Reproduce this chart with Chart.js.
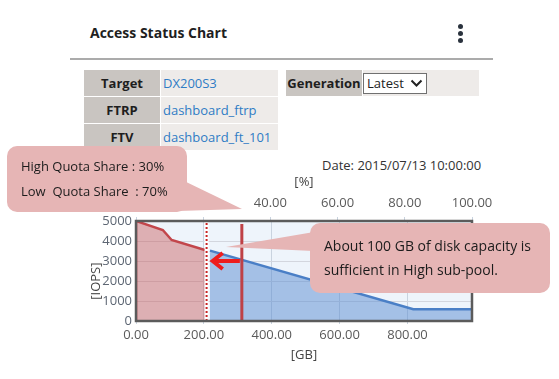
<!DOCTYPE html>
<html>
<head>
<meta charset="utf-8">
<title>Access Status Chart</title>
<script src="https://cdn.jsdelivr.net/npm/chart.js@4.4.1/dist/chart.umd.min.js"></script>
<style>
  body { margin: 0; width: 559px; height: 379px; position: relative; overflow: hidden; background: #fff; font-family: 'Open Sans', sans-serif; }
  #heading { position: absolute; left: 90px; top: 24px; font-size: 14px; line-height: 18px; font-weight: bold; color: #1f1f1f; }
  .dot { position: absolute; left: 458px; width: 5px; height: 5px; border-radius: 50%; background: #2a323d; }
  #rule { position: absolute; left: 70px; top: 58px; width: 423px; border-top: 2px solid #ababab; }
  table { position: absolute; top: 69px; border-collapse: separate; border-spacing: 1px; font-size: 13px; }
  th, td { height: 26px; padding: 0; }
  th { background: #c9c5c1; color: #1e1e1e; font-weight: bold; text-align: center; width: 76px; }
  td { background: #eeebe9; color: #2f7cc5; padding-left: 2px; }
  #info { left: 83px; }
  #info td { width: 115px; }
  #gen { left: 285px; }
  #gen td { width: 116px; padding-left: 0; }
  .sel { width: 59px; height: 19px; border: 1px solid #707070; background: #fff; color: #222; font-size: 13px; line-height: 19px; padding-left: 3px; position: relative; }
  .sel svg { position: absolute; right: 3px; top: 5px; }
  #date { position: absolute; left: 322px; top: 156px; font-size: 13px; color: #333; }
  canvas { position: absolute; left: 0; top: 0; z-index: 2; }
</style>
</head>
<body>
<div id="heading">Access Status Chart</div>
<div class="dot" style="top:24px"></div>
<div class="dot" style="top:31px"></div>
<div class="dot" style="top:38px"></div>
<div id="rule"></div>

<table id="info">
  <tr><th>Target</th><td>DX200S3</td></tr>
  <tr><th>FTRP</th><td>dashboard_ftrp</td></tr>
  <tr><th>FTV</th><td>dashboard_ft_101</td></tr>
</table>
<table id="gen">
  <tr><th>Generation</th><td><div class="sel">Latest<svg width="13" height="9" viewBox="0 0 13 9"><path d="M1.5 1.5 L6.5 6.5 L11.5 1.5" fill="none" stroke="#222" stroke-width="2"/></svg></div></td></tr>
</table>

<div id="date">Date: 2015/07/13 10:00:00</div>

<canvas id="myChart" width="559" height="379"></canvas>

<script>
'use strict';

// chart values
let highGB = [0, 0, 79, 105, 203];          // High sub-pool capacity [GB]
let highIOPS = [0, 5000, 4550, 4050, 3550];
let lowGB = [218, 817, 990];                // Low sub-pool capacity [GB]
let lowIOPS = [3520, 590, 590];

let borderGB = 208;        // dotted boundary between High and Low
let quotaPercent = 31.5;   // solid quota line on the [%] axis
let quotaTop = 4850;

let arrowFrom = 306;       // arrow from quota line back to boundary
let arrowTo = 223;
let arrowIOPS = 3000;

// axes and tick labels
let gbMax = 990;
let gbTicks = [0, 200, 400, 600, 800];
let percentMax = 100;
let percentTicks = [0, 20, 40, 60, 80, 100];
let iopsMax = 5000;
let iopsTicks = [0, 1000, 2000, 3000, 4000, 5000];

// callout texts
let quotaNote = ['High Quota Share : 30%', 'Low  Quota Share  : 70%'];
let capacityNote = ['About 100 GB of disk capacity is', 'sufficient in High sub-pool.'];

function toPoints(xs, ys) {
  let pts = [];
  for (let i = 0; i < xs.length; i++) {
    pts.push({ x: xs[i], y: ys[i] });
  }
  return pts;
}

function fixedTicks(values) {
  return function (scale) {
    scale.ticks = values.map(v => ({ value: v }));
  };
}

Chart.defaults.font.family = "'Open Sans', sans-serif";
Chart.defaults.font.size = 13;
Chart.defaults.color = '#5a5a5a';

// light plot background
let plotBackground = {
  id: 'plotBackground',
  beforeDraw(chart) {
    let a = chart.chartArea;
    let ctx = chart.ctx;
    ctx.save();
    ctx.fillStyle = '#eef4fb';
    ctx.fillRect(a.left, a.top, a.width, a.height);
    ctx.restore();
  }
};

// dark frame and red arrow
let frameAndArrow = {
  id: 'frameAndArrow',
  afterDatasetsDraw(chart) {
    let a = chart.chartArea;
    let ctx = chart.ctx;
    ctx.save();
    ctx.strokeStyle = '#5b5b5b';
    ctx.lineWidth = 2.5;
    ctx.strokeRect(a.left, a.top, a.width, a.height);

    let x0 = chart.scales.x.getPixelForValue(arrowFrom);
    let x1 = chart.scales.x.getPixelForValue(arrowTo);
    let yy = chart.scales.y.getPixelForValue(arrowIOPS);
    ctx.strokeStyle = '#ee1d1d';
    ctx.lineWidth = 4;
    ctx.lineJoin = 'miter';
    ctx.beginPath();
    ctx.moveTo(x0, yy);
    ctx.lineTo(x1 + 2, yy);
    ctx.stroke();
    ctx.beginPath();
    ctx.moveTo(x1 + 11, yy - 8);
    ctx.lineTo(x1 + 1, yy);
    ctx.lineTo(x1 + 11, yy + 8);
    ctx.stroke();
    ctx.restore();
  }
};

function callout(ctx, box, tail, lines, textX, lineY, size) {
  ctx.save();
  ctx.fillStyle = '#e6b5b5';
  ctx.beginPath();
  ctx.roundRect(box[0], box[1], box[2], box[3], 10);
  ctx.fill();
  ctx.beginPath();
  ctx.moveTo(tail[0], tail[1]);
  ctx.lineTo(tail[2], tail[3]);
  ctx.lineTo(tail[4], tail[5]);
  ctx.closePath();
  ctx.fill();
  ctx.fillStyle = '#1c1c1c';
  ctx.font = size + "px 'Open Sans', sans-serif";
  ctx.textBaseline = 'middle';
  for (let i = 0; i < lines.length; i++) {
    ctx.fillText(lines[i], textX, lineY[i]);
  }
  ctx.restore();
}

let callouts = {
  id: 'callouts',
  afterDraw(chart) {
    let ctx = chart.ctx;
    callout(ctx, [7, 146, 180, 66], [178, 178, 242, 209, 178, 211], quotaNote, 21, [167, 192], 13);
    callout(ctx, [310, 223, 240, 70], [314, 232, 226, 247, 314, 251], capacityNote, 324, [247, 271], 14);
  }
};

let ctx = document.getElementById('myChart').getContext('2d');

new Chart(ctx, { //eslint-disable-line
  type: 'line',
  data: {
    datasets: [
      {
        label: 'boundary',
        data: toPoints([borderGB, borderGB], [0, iopsMax]),
        borderColor: '#c82424',
        borderWidth: 2,
        borderDash: [2, 2],
        pointRadius: 0,
        fill: false
      },
      {
        label: 'gap',
        data: toPoints([borderGB, borderGB], [0, iopsMax]),
        borderColor: '#ffffff',
        borderWidth: 4,
        pointRadius: 0,
        fill: false
      },
      {
        label: 'quota',
        xAxisID: 'x2',
        data: toPoints([quotaPercent, quotaPercent], [0, quotaTop]),
        borderColor: '#bf4146',
        borderWidth: 3,
        pointRadius: 0,
        fill: false
      },
      {
        label: 'High',
        data: toPoints(highGB, highIOPS),
        borderColor: '#c2464b',
        backgroundColor: 'rgba(200, 90, 90, 0.45)',
        borderWidth: 2.5,
        pointRadius: 0,
        fill: 'origin'
      },
      {
        label: 'Low',
        data: toPoints(lowGB, lowIOPS),
        borderColor: '#4a7fc6',
        backgroundColor: 'rgba(90, 140, 210, 0.5)',
        borderWidth: 2.5,
        pointRadius: 0,
        fill: 'origin'
      }
    ]
  },
  options: {
    responsive: false,
    animation: false,
    events: [],
    layout: { padding: { left: 80, top: 170, right: 87, bottom: 0 } },
    plugins: {
      legend: { display: false },
      tooltip: { enabled: false }
    },
    scales: {
      x: {
        type: 'linear',
        position: 'bottom',
        min: 0,
        max: gbMax,
        afterBuildTicks: fixedTicks(gbTicks),
        afterFit(scale) { scale.height = 58; },
        ticks: { autoSkip: false, maxRotation: 0, padding: 3, callback: v => v.toFixed(2) },
        grid: { color: '#c9d3df', tickLength: 3 },
        border: { display: false },
        title: { display: true, text: '[GB]', color: '#444', padding: { top: 0, bottom: 16 } }
      },
      x2: {
        type: 'linear',
        position: 'top',
        min: 0,
        max: percentMax,
        afterBuildTicks: fixedTicks(percentTicks),
        afterFit(scale) { scale.height = 51; },
        ticks: { autoSkip: false, maxRotation: 0, padding: 6, callback: v => v.toFixed(2) },
        grid: { drawOnChartArea: false, color: '#c9d3df', tickLength: 4 },
        border: { display: false },
        title: { display: true, text: '[%]', color: '#444', padding: { top: 4, bottom: 0 } }
      },
      y: {
        min: 0,
        max: iopsMax,
        afterBuildTicks: fixedTicks(iopsTicks),
        afterFit(scale) { scale.width = 56; },
        ticks: { padding: 4, color: '#5d6673', callback: v => String(v) },
        grid: { color: '#d3d6de', drawTicks: false },
        border: { display: false },
        title: { display: true, text: '[IOPS]\u00a0\u00a0\u00a0\u00a0\u00a0\u00a0', color: '#444', padding: { top: 8, bottom: 0 } }
      }
    }
  },
  plugins: [plotBackground, frameAndArrow, callouts]
});
</script>
</body>
</html>
